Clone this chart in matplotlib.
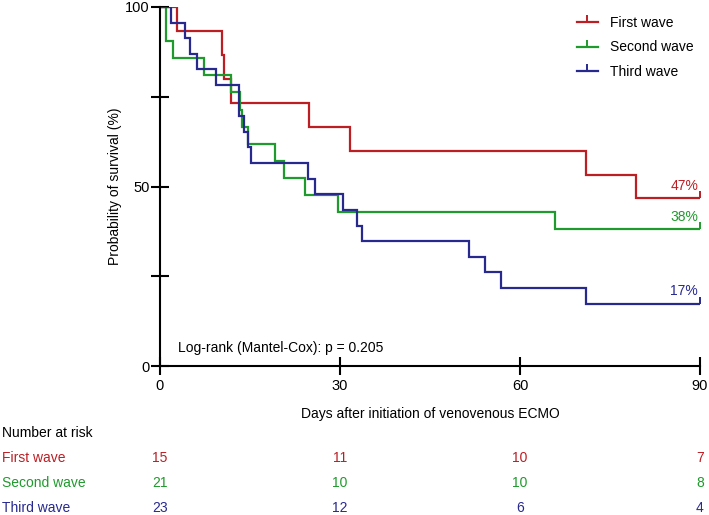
import matplotlib
matplotlib.use('Agg')
import matplotlib.pyplot as plt
import matplotlib.transforms as mtransforms
from matplotlib.path import Path
from matplotlib.lines import Line2D
import numpy as np

plt.rcParams['font.family'] = ['Liberation Sans', 'DejaVu Sans']

# Kaplan-Meier steps (days, number still alive)
first_n = 15
first_days = [0, 2.75, 10.3, 10.6, 11.9, 24.8, 31.6, 71.0, 79.4, 90]
first_alive = [15, 14, 13, 12, 11, 10, 9, 8, 7, 7]

second_n = 21
second_days = [0, 1.0, 2.2, 7.3, 11.9, 13.25, 13.6, 14.7, 19.1, 20.6, 24.1, 29.6, 65.9, 90]
second_alive = [21, 19, 18, 17, 16, 15, 14, 13, 12, 11, 10, 9, 8, 8]

third_n = 23
third_days = [0, 1.75, 4.1, 5.0, 6.1, 9.4, 13.1, 14.0, 14.7, 15.1, 24.7, 25.9,
              30.5, 32.75, 33.7, 51.5, 54.2, 56.9, 71.0, 90]
third_alive = [23, 22, 21, 20, 19, 18, 16, 15, 14, 13, 12, 11,
               10, 9, 8, 7, 6, 5, 4, 4]

group_names = ['First wave', 'Second wave', 'Third wave']
colors = ['#BC1E24', '#1F9A2C', '#27298F']

risk_days = [0, 30, 60, 90]
risk_first = [15, 11, 10, 7]
risk_second = [21, 10, 10, 8]
risk_third = [23, 12, 6, 4]

p_text = 'Log-rank (Mantel-Cox): p = 0.205'

# short upward tick used as censor mark
tick_up = Path([(0, 0), (0, 1)], [Path.MOVETO, Path.LINETO])

fig = plt.figure(figsize=(7.09, 5.15), dpi=100)
ax = fig.add_axes([160 / 709, 1 - 366 / 515, 540 / 709, 359 / 515])

groups = [(first_days, first_alive, first_n),
          (second_days, second_alive, second_n),
          (third_days, third_alive, third_n)]
handles = []
for (days, alive, n), name, c in zip(groups, group_names, colors):
    surv = 100 * np.array(alive) / n
    ax.step(days, surv, where='post', color=c, lw=1.6, solid_joinstyle='miter')
    ax.plot([days[-1]], [surv[-1]], marker=tick_up, ms=10, mew=1.4, color=c, ls='none')
    ax.text(days[-1] - 0.3, surv[-1] + 1.5, f'{surv[-1]:.0f}%', color=c,
            ha='right', va='bottom', fontsize=10)
    handles.append(Line2D([], [], color=c, lw=1.6, marker=tick_up, ms=10, mew=1.4))

ax.set_xlim(0, 90)
ax.set_ylim(0, 100)
for s in ['top', 'right']:
    ax.spines[s].set_visible(False)
for s in ['left', 'bottom']:
    ax.spines[s].set_linewidth(1.5)
ax.set_xticks([0, 30, 60, 90])
ax.set_yticks([0, 25, 50, 75, 100], labels=['0', '', '50', '', '100'])
ax.tick_params(direction='inout', length=13, width=1.5, labelsize=10.5)
ax.tick_params(axis='x', pad=3)
ax.tick_params(axis='y', pad=1)
ax.set_xlabel('Days after initiation of venovenous ECMO', fontsize=10, labelpad=10)
ax.set_ylabel('Probability of survival (%)', fontsize=10, labelpad=2)

ax.text(3, 3, p_text, fontsize=10, ha='left', va='bottom')

fig.legend(handles, group_names, loc='upper left', bbox_to_anchor=(577 / 709, 1 - 16 / 515),
           frameon=False, fontsize=10, handlelength=1.5, handletextpad=0.9,
           labelspacing=0.75, borderpad=0, borderaxespad=0)

# number at risk table
trans = mtransforms.blended_transform_factory(ax.transData, fig.transFigure)
fig.text(2 / 709, 1 - 433 / 515, 'Number at risk', fontsize=10, va='center', ha='left')
row_y = [458, 483, 508]
for risk, name, c, y in zip([risk_first, risk_second, risk_third], group_names, colors, row_y):
    fig.text(2 / 709, 1 - y / 515, name, color=c, fontsize=10, va='center', ha='left')
    for d, r in zip(risk_days, risk):
        ax.text(d, 1 - y / 515, str(r), color=c, fontsize=10, va='center', ha='center',
                transform=trans, clip_on=False)

fig.savefig('out.png', dpi=100)
